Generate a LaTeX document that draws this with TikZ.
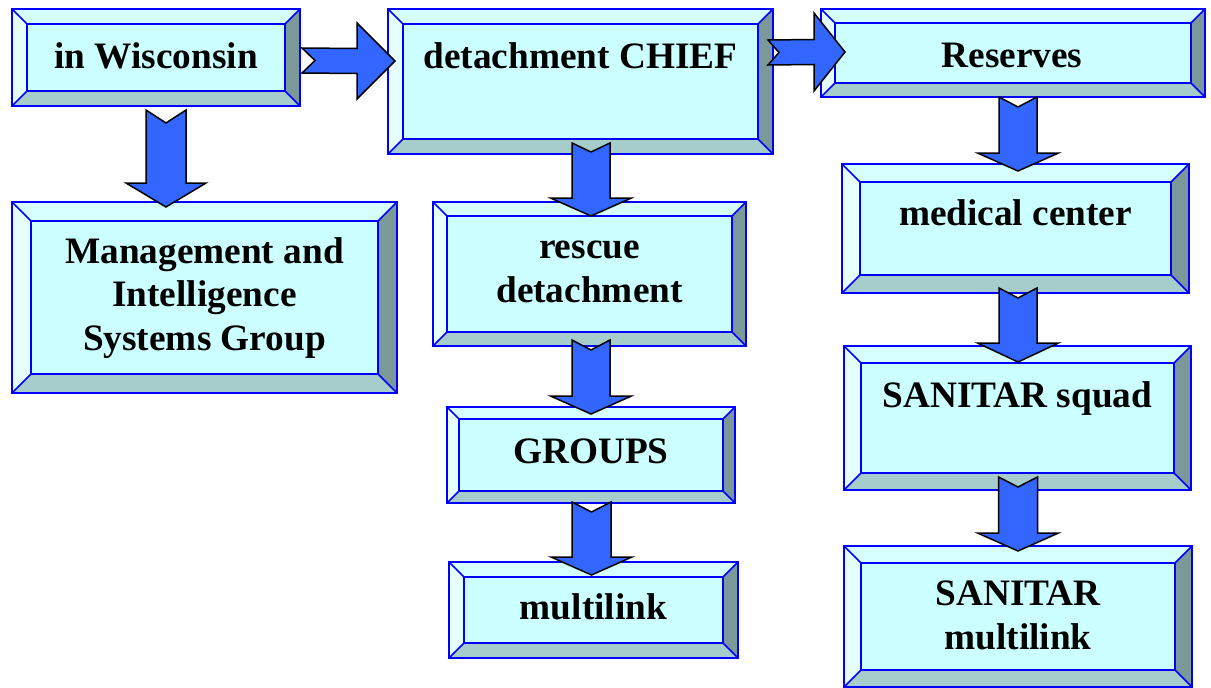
\documentclass[tikz,border=0pt]{standalone}
\usepackage{fontspec}
\setmainfont{Liberation Serif}
\definecolor{facec}{HTML}{CCFFFF}
\definecolor{topc}{HTML}{D6FFFF}
\definecolor{leftc}{HTML}{E6FFFF}
\definecolor{rightc}{HTML}{7C9999}
\definecolor{botc}{HTML}{A6CCCC}
\definecolor{bevblue}{HTML}{0000FF}
\definecolor{arrfill}{HTML}{3366FF}
\tikzset{
  boxbase/.style={rectangle, inner sep=0pt, outer sep=0pt},
  bevline/.style={draw=bevblue, line width=1.5pt, line join=miter},
  arrowsty/.style={fill=arrfill, draw=black, line width=1.5pt, line join=miter},
  boxtext/.style={anchor=base, align=center, inner sep=0pt, font=\bfseries\fontsize{37.3}{43.5}\selectfont}
}
\newcommand\bevbox[6]{%
  \node[boxbase, minimum width={(#4-#2)*1pt}, minimum height={(#5-#3)*1pt}] (#1) at ({(#2+#4)/2},{(#3+#5)/2}) {};
  \fill[facec] ([shift={(#6,#6)}]#1.north west) rectangle ([shift={(-#6,-#6)}]#1.south east);
  \fill[topc] (#1.north west) -- (#1.north east) -- ([shift={(-#6,#6)}]#1.north east) -- ([shift={(#6,#6)}]#1.north west) -- cycle;
  \fill[botc] (#1.south west) -- (#1.south east) -- ([shift={(-#6,-#6)}]#1.south east) -- ([shift={(#6,-#6)}]#1.south west) -- cycle;
  \fill[leftc] (#1.north west) -- ([shift={(#6,#6)}]#1.north west) -- ([shift={(#6,-#6)}]#1.south west) -- (#1.south west) -- cycle;
  \fill[rightc] (#1.north east) -- (#1.south east) -- ([shift={(-#6,-#6)}]#1.south east) -- ([shift={(-#6,#6)}]#1.north east) -- cycle;
  \draw[bevline] (#1.north west) rectangle (#1.south east);
  \draw[bevline] ([shift={(#6,#6)}]#1.north west) rectangle ([shift={(-#6,-#6)}]#1.south east);
  \draw[bevline] (#1.north west) -- ([shift={(#6,#6)}]#1.north west);
  \draw[bevline] (#1.north east) -- ([shift={(-#6,#6)}]#1.north east);
  \draw[bevline] (#1.south west) -- ([shift={(#6,-#6)}]#1.south west);
  \draw[bevline] (#1.south east) -- ([shift={(-#6,-#6)}]#1.south east);
}
% down arrow: start, end, stem half width, head half width, notch, head length
\newcommand\varrow[6]{%
  \draw[arrowsty] ([shift={(-#3,0)}]#1) -- ([shift={(-#3,-#6)}]#2) -- ([shift={(-#4,-#6)}]#2) -- (#2)
    -- ([shift={(#4,-#6)}]#2) -- ([shift={(#3,-#6)}]#2) -- ([shift={(#3,0)}]#1) -- ([shift={(0,#5)}]#1) -- cycle;
}
% right arrow
\newcommand\harrow[6]{%
  \draw[arrowsty] ([shift={(0,-#3)}]#1) -- ([shift={(-#6,-#3)}]#2) -- ([shift={(-#6,-#4)}]#2) -- (#2)
    -- ([shift={(-#6,#4)}]#2) -- ([shift={(-#6,#3)}]#2) -- ([shift={(0,#3)}]#1) -- ([shift={(#5,0)}]#1) -- cycle;
}
\begin{document}
\begin{tikzpicture}[x=1pt, y=-1pt]
\useasboundingbox (0,0) rectangle (1211,688);
\fill[white] (0,0) rectangle (1211,688);
% boxes
\bevbox{wis}{12}{9}{300}{106}{15}
\bevbox{chief}{388}{9}{773}{154}{15}
\bevbox{res}{821}{9}{1205}{97}{14}
\bevbox{mgmt}{12}{202}{397}{393}{19}
\bevbox{rescue}{433}{202}{746}{346}{14}
\bevbox{med}{842}{164}{1189}{293}{18}
\bevbox{groups}{447}{407}{735}{503}{12}
\bevbox{multi}{449}{562}{738}{658}{15}
\bevbox{squad}{844}{346}{1191}{490}{17}
\bevbox{smulti}{844}{546}{1192}{687}{17}
% texts (base = baseline of the last line)
\node[boxtext] (wis-t) at (156,68) {in Wisconsin};
\node[boxtext] (chief-t) at (580.5,68) {detachment CHIEF};
\node[boxtext] (res-t) at (1012,67) {Reserves};
\node[boxtext] (med-t) at (1015.5,225) {medical center};
\node[boxtext] (mgmt-t) at (204.5,350) {Management and\\Intelligence\\Systems Group};
\node[boxtext] (rescue-t) at (589.5,302) {rescue\\detachment};
\node[boxtext] (groups-t) at (591,463) {GROUPS};
\node[boxtext] (multi-t) at (593.5,619) {multilink};
\node[boxtext] (squad-t) at (1017.5,407) {SANITAR squad};
\node[boxtext] (smulti-t) at (1018,649) {SANITAR\\multilink};
% arrow end points
\coordinate (a1s) at (166,110);   \coordinate (a1e) at (166,207);
\coordinate (a2s) at (302,60.5);  \coordinate (a2e) at (395,61);
\coordinate (a3s) at (768,52.5);  \coordinate (a3e) at (845,52);
\coordinate (a4s) at (591,143);   \coordinate (a4e) at (591,216);
\coordinate (a5s) at (591,340);   \coordinate (a5e) at (591,414);
\coordinate (a6s) at (591.5,502); \coordinate (a6e) at (591.5,575);
\coordinate (a7s) at (1018,97);   \coordinate (a7e) at (1018,171);
\coordinate (a8s) at (1018,288);  \coordinate (a8e) at (1018,362);
\coordinate (a9s) at (1018,477);  \coordinate (a9e) at (1018,551);
% arrows
\varrow{a1s}{a1e}{20}{40}{13}{24}
\harrow{a2s}{a2e}{12.5}{38}{13}{38}
\harrow{a3s}{a3e}{12.5}{39}{11}{31}
\varrow{a4s}{a4e}{19}{40.5}{9}{18}
\varrow{a5s}{a5e}{19}{40.5}{10}{18}
\varrow{a6s}{a6e}{19.5}{40.5}{10}{18}
\varrow{a7s}{a7e}{19}{40.5}{10}{18}
\varrow{a8s}{a8e}{19}{40.5}{10}{19}
\varrow{a9s}{a9e}{19.5}{40.5}{10}{18}
\end{tikzpicture}
\end{document}
